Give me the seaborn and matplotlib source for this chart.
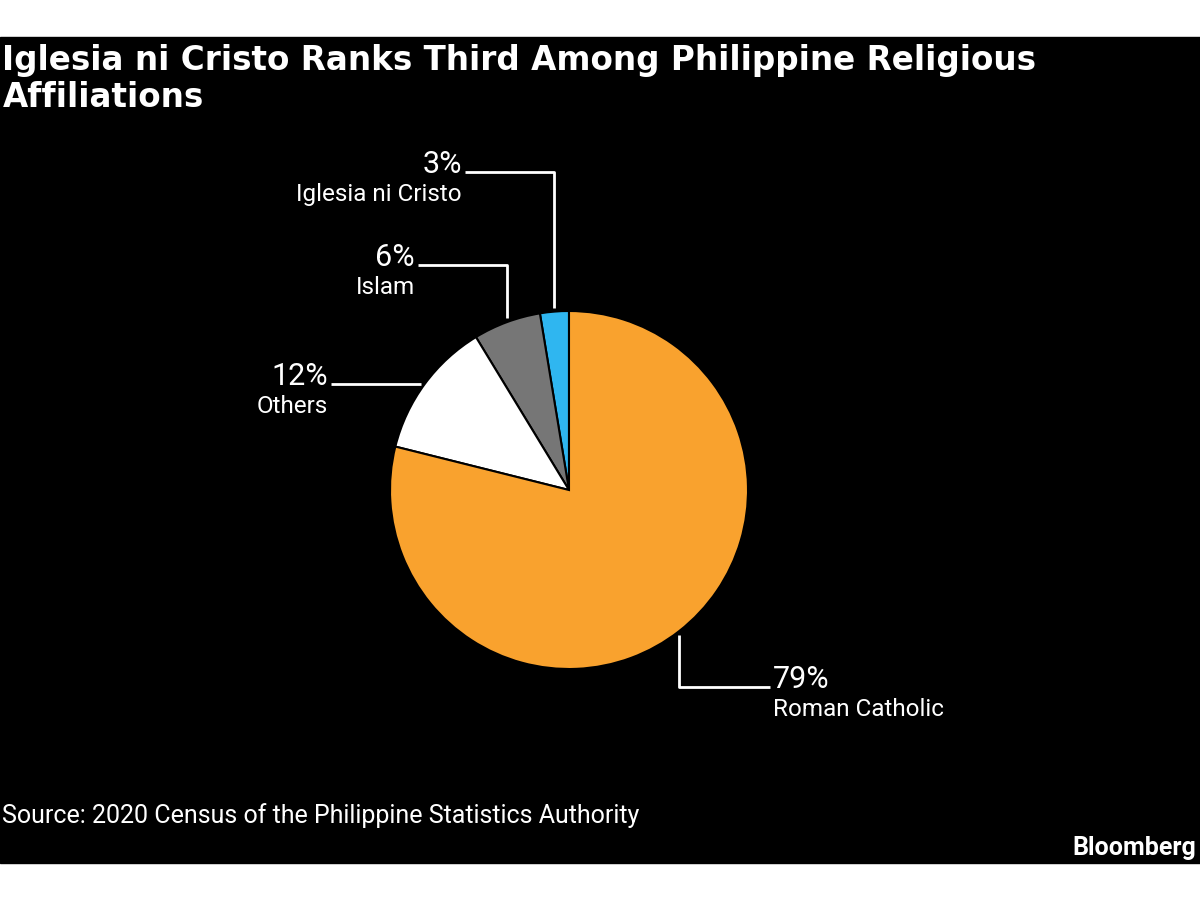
import numpy as np
import seaborn as sns
import matplotlib.pyplot as plt
from matplotlib.patches import Rectangle

# Religious affiliation shares (2020 census)
religions = ['Iglesia ni Cristo', 'Islam', 'Others', 'Roman Catholic']
shares = [2.6, 6.1, 12.4, 78.9]
pct_labels = ['3%', '6%', '12%', '79%']
colors = ['#2fb6f0', '#767676', '#ffffff', '#f9a22e']

sns.set_style('dark')
plt.rcParams['font.family'] = ['Roboto', 'DejaVu Sans']

fig = plt.figure(figsize=(12, 9), dpi=100, facecolor='white')
ax = fig.add_axes([0, 0, 1, 1])

# black panel
ax.add_patch(Rectangle((0, 37), 1200, 826, color='black', zorder=0))

cx, cy, r = 569, 410, 179
wedges, _ = ax.pie(shares, colors=colors, startangle=90, counterclock=True,
                   radius=r, center=(cx, cy), frame=True,
                   wedgeprops=dict(edgecolor='black', linewidth=1.5))
ax.set_xlim(0, 1200)
ax.set_ylim(0, 900)
ax.set_aspect('equal')
ax.axis('off')

# leader layout: (kind, elbow y, end x)
layout = {
    'Iglesia ni Cristo': ('up', 728, 465),
    'Islam': ('up', 635, 418),
    'Others': ('left', None, 331),
    'Roman Catholic': ('down', 213, 770),
}

for w, name, pct in zip(wedges, religions, pct_labels):
    mid = np.deg2rad((w.theta1 + w.theta2) / 2)
    ax_x = cx + r * np.cos(mid)
    ax_y = cy + r * np.sin(mid)
    kind, ey, ex = layout[name]
    if kind == 'up':
        xs = [ax_x, ax_x, ex]
        ys = [ax_y + 4, ey, ey]
        ha, tx = 'right', ex - 3
    elif kind == 'left':
        ey = ax_y
        xs = [ax_x - 4, ex]
        ys = [ey, ey]
        ha, tx = 'right', ex - 3
    else:
        xs = [ax_x, ax_x, ex]
        ys = [ax_y - 4, ey, ey]
        ha, tx = 'left', ex + 3
    ax.plot(xs, ys, color='white', lw=2, solid_capstyle='butt', zorder=5)
    ax.text(tx, ey - 1, pct, color='white', fontsize=22, ha=ha, va='baseline')
    ax.text(tx, ey - 29, name, color='white', fontsize=17.5, ha=ha, va='baseline')

fig.text(0.002, (900 - 107) / 900,
         'Iglesia ni Cristo Ranks Third Among Philippine Religious\nAffiliations',
         color='white', fontsize=23.5, fontweight='bold',
         family='DejaVu Sans', ha='left', va='baseline', linespacing=1.15)
fig.text(0.002, (900 - 823) / 900, 'Source: 2020 Census of the Philippine Statistics Authority',
         color='white', fontsize=18, ha='left', va='baseline')
fig.text(0.997, (900 - 855) / 900, 'Bloomberg', color='white', fontsize=18, fontweight='bold',
         ha='right', va='baseline')

fig.savefig('out.png', dpi=100, facecolor='white')
